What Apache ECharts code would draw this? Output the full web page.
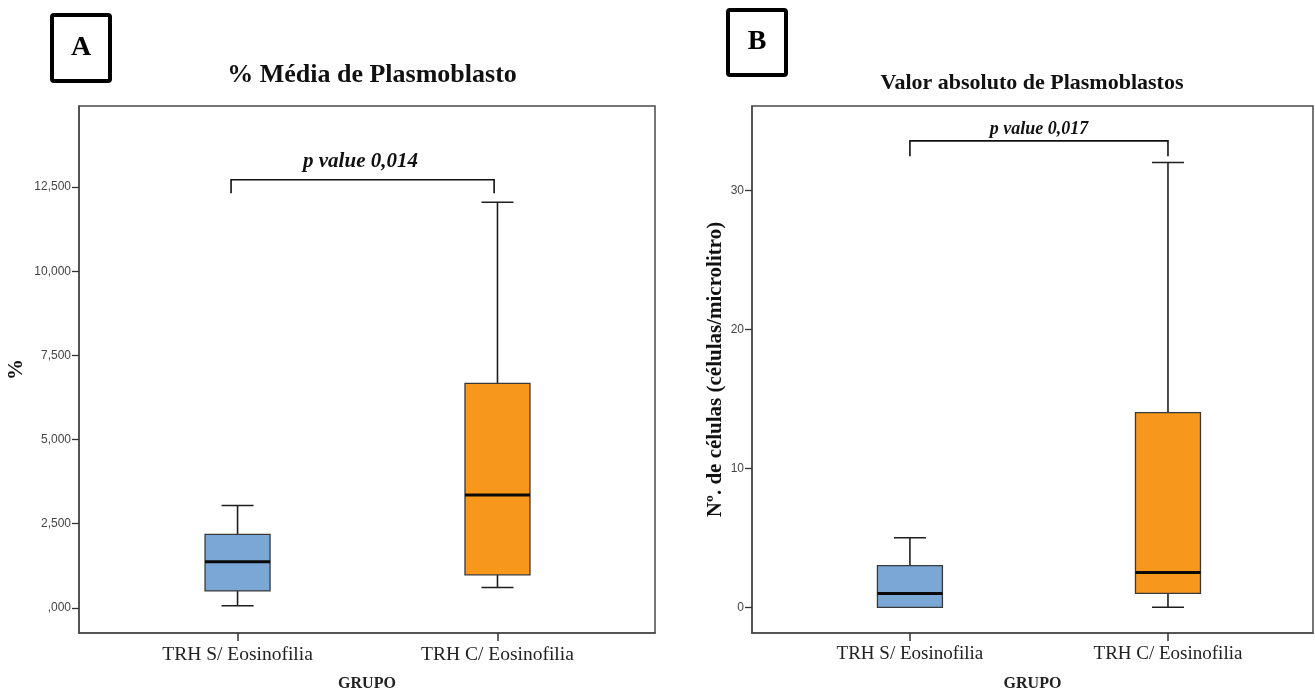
<!DOCTYPE html>
<html>
<head>
<meta charset="utf-8">
<script src="https://cdn.jsdelivr.net/npm/echarts@6/dist/echarts.min.js"></script>
<style>
  html, body { margin: 0; padding: 0; background: #ffffff; }
  #chart { width: 1315px; height: 697px; }
</style>
</head>
<body>
<div id="chart"></div>
<script>
// Groups compared in both panels
const groups = ['TRH S/ Eosinofilia', 'TRH C/ Eosinofilia'];

// Box statistics per group: [min, Q1, median, Q3, max]
const percentStats = [
  [0.06, 0.50, 1.37, 2.18, 3.04],
  [0.60, 0.98, 3.35, 6.67, 12.05]
];
const absoluteStats = [
  [0, 0, 1, 3, 5],
  [0, 1, 2.5, 14, 32]
];

// Y tick values and their labels
const percentTicks = [0, 2.5, 5, 7.5, 10, 12.5];
const percentTickLabels = [',000', '2,500', '5,000', '7,500', '10,000', '12,500'];
const absoluteTicks = [0, 10, 20, 30];
const absoluteTickLabels = ['0', '10', '20', '30'];

// Significance annotations
const pValueA = 'p value 0,014';
const pValueB = 'p value 0,017';

const groupColors = ['#7aa7d6', '#f7981d'];
const SERIF = '"Liberation Serif", "DejaVu Serif", serif';
const SANS = '"Liberation Sans", Arial, sans-serif';

function labelFor(ticks, labels) {
  return function (v) {
    for (let i = 0; i < ticks.length; i++) {
      if (Math.abs(ticks[i] - v) < 1e-9) return labels[i];
    }
    return '';
  };
}

// Box-and-whisker drawn with a custom series so the median can be heavier
function renderBox(params, api) {
  const x = api.value(0);
  const pLo = api.coord([x, api.value(1)]);
  const pQ1 = api.coord([x, api.value(2)]);
  const pMed = api.coord([x, api.value(3)]);
  const pQ3 = api.coord([x, api.value(4)]);
  const pHi = api.coord([x, api.value(5)]);
  const cx = pMed[0];
  const half = 32.5;
  const cap = 16;
  const whisk = { stroke: '#1e1e1e', lineWidth: 1.6 };
  return {
    type: 'group',
    children: [
      { type: 'line', shape: { x1: cx, y1: pHi[1], x2: cx, y2: pQ3[1] }, style: whisk },
      { type: 'line', shape: { x1: cx - cap, y1: pHi[1], x2: cx + cap, y2: pHi[1] }, style: whisk },
      { type: 'line', shape: { x1: cx, y1: pLo[1], x2: cx, y2: pQ1[1] }, style: whisk },
      { type: 'line', shape: { x1: cx - cap, y1: pLo[1], x2: cx + cap, y2: pLo[1] }, style: whisk },
      {
        type: 'rect',
        shape: { x: cx - half, y: pQ3[1], width: half * 2, height: pQ1[1] - pQ3[1] },
        style: { fill: groupColors[params.dataIndex], stroke: '#3a3a3a', lineWidth: 1.3 }
      },
      { type: 'line', shape: { x1: cx - half, y1: pMed[1], x2: cx + half, y2: pMed[1] },
        style: { stroke: '#0a0a0a', lineWidth: 3 } }
    ]
  };
}

// Bracket joining the two groups, with the p value above it
function renderBracket(params, api) {
  const a = api.coord([api.value(0), api.value(3)]);
  const b = api.coord([api.value(0), api.value(2)]);
  const c = api.coord([api.value(1), api.value(2)]);
  const d = api.coord([api.value(1), api.value(3)]);
  const t = api.coord([api.value(4), api.value(5)]);
  const text = params.seriesIndex === 2 ? pValueA : pValueB;
  const size = params.seriesIndex === 2 ? 21 : 18;
  return {
    type: 'group',
    children: [
      { type: 'polyline', shape: { points: [a, b, c, d] },
        style: { stroke: '#111', lineWidth: 1.6, fill: null } },
      { type: 'text', x: t[0], y: t[1],
        style: { text: text, fill: '#111', font: 'italic bold ' + size + 'px ' + SERIF,
                 align: 'center', verticalAlign: 'middle' } }
    ]
  };
}

function boxData(stats) {
  return stats.map((s, i) => [i + 1].concat(s));
}

function xAxisFor(gridIndex, min, max, labelSize) {
  return {
    gridIndex: gridIndex,
    type: 'value',
    min: min,
    max: max,
    axisLine: { show: true, onZero: false, lineStyle: { color: '#4a4a4a', width: 1.5 } },
    axisTick: { show: true, customValues: [1, 2], length: 8, lineStyle: { color: '#333', width: 1.5 } },
    axisLabel: {
      customValues: [1, 2],
      formatter: v => groups[Math.round(v) - 1],
      fontFamily: SERIF, fontSize: labelSize, color: '#222', margin: 12
    },
    splitLine: { show: false },
    name: 'GRUPO',
    nameLocation: 'middle',
    nameGap: 43,
    nameTextStyle: { fontFamily: SERIF, fontSize: 16, fontWeight: 'bold', color: '#222' }
  };
}

function yAxisFor(gridIndex, min, max, ticks, labels, name, gap, nameSize) {
  return {
    gridIndex: gridIndex,
    type: 'value',
    min: min,
    max: max,
    axisLine: { show: true, onZero: false, lineStyle: { color: '#4a4a4a', width: 1.5 } },
    axisTick: { show: true, customValues: ticks, length: 7, lineStyle: { color: '#333', width: 1.3 } },
    axisLabel: {
      customValues: ticks,
      formatter: labelFor(ticks, labels),
      fontFamily: SANS, fontSize: 12, color: '#444', margin: 8
    },
    splitLine: { show: false },
    name: name,
    nameLocation: 'middle',
    nameGap: gap,
    nameTextStyle: { fontFamily: SERIF, fontSize: nameSize, fontWeight: 'bold', color: '#111' }
  };
}

const chart = echarts.init(document.getElementById('chart'), null, { renderer: 'canvas' });

chart.setOption({
  backgroundColor: '#ffffff',
  animation: false,
  title: [
    { text: '% Média de Plasmoblasto', left: 367, top: 57, textAlign: 'center',
      textStyle: { fontFamily: SERIF, fontSize: 26, fontWeight: 'bold', color: '#111' } },
    { text: 'Valor absoluto de Plasmoblastos', left: 1027, top: 67, textAlign: 'center',
      textStyle: { fontFamily: SERIF, fontSize: 22, fontWeight: 'bold', color: '#111' } }
  ],
  graphic: [
    { type: 'rect', shape: { x: 52, y: 15, width: 58, height: 66, r: 2 },
      style: { fill: '#fff', stroke: '#000', lineWidth: 4 } },
    { type: 'text', x: 81, y: 48,
      style: { text: 'A', font: 'bold 28px ' + SERIF, fill: '#000', align: 'center', verticalAlign: 'middle' } },
    { type: 'rect', shape: { x: 728, y: 10, width: 58, height: 65, r: 2 },
      style: { fill: '#fff', stroke: '#000', lineWidth: 4 } },
    { type: 'text', x: 757, y: 42,
      style: { text: 'B', font: 'bold 28px ' + SERIF, fill: '#000', align: 'center', verticalAlign: 'middle' } }
  ],
  grid: [
    { left: 79, top: 106, width: 576, height: 534, show: true, borderColor: '#4a4a4a', borderWidth: 1.5 },
    { left: 752, top: 106, width: 561, height: 533, show: true, borderColor: '#4a4a4a', borderWidth: 1.5 }
  ],
  xAxis: [
    xAxisFor(0, 0.39, 2.606, 19.5),
    xAxisFor(1, 0.388, 2.562, 19)
  ],
  yAxis: [
    yAxisFor(0, -0.75, 14.91, percentTicks, percentTickLabels, '%', 52, 21),
    yAxisFor(1, -1.85, 36.06, absoluteTicks, absoluteTickLabels, 'Nº. de células (células/microlitro)', 26, 21)
  ],
  series: [
    { type: 'custom', xAxisIndex: 0, yAxisIndex: 0, renderItem: renderBox,
      encode: { x: 0, y: [1, 2, 3, 4, 5] }, data: boxData(percentStats), clip: false },
    { type: 'custom', xAxisIndex: 1, yAxisIndex: 1, renderItem: renderBox,
      encode: { x: 0, y: [1, 2, 3, 4, 5] }, data: boxData(absoluteStats), clip: false },
    { type: 'custom', xAxisIndex: 0, yAxisIndex: 0, renderItem: renderBracket,
      encode: { x: [0, 1], y: [2, 3] }, data: [[0.975, 1.987, 12.72, 12.32, 1.473, 13.27]], clip: false },
    { type: 'custom', xAxisIndex: 1, yAxisIndex: 1, renderItem: renderBracket,
      encode: { x: [0, 1], y: [2, 3] }, data: [[1, 2, 33.55, 32.45, 1.5, 34.4]], clip: false }
  ]
});
</script>
</body>
</html>
